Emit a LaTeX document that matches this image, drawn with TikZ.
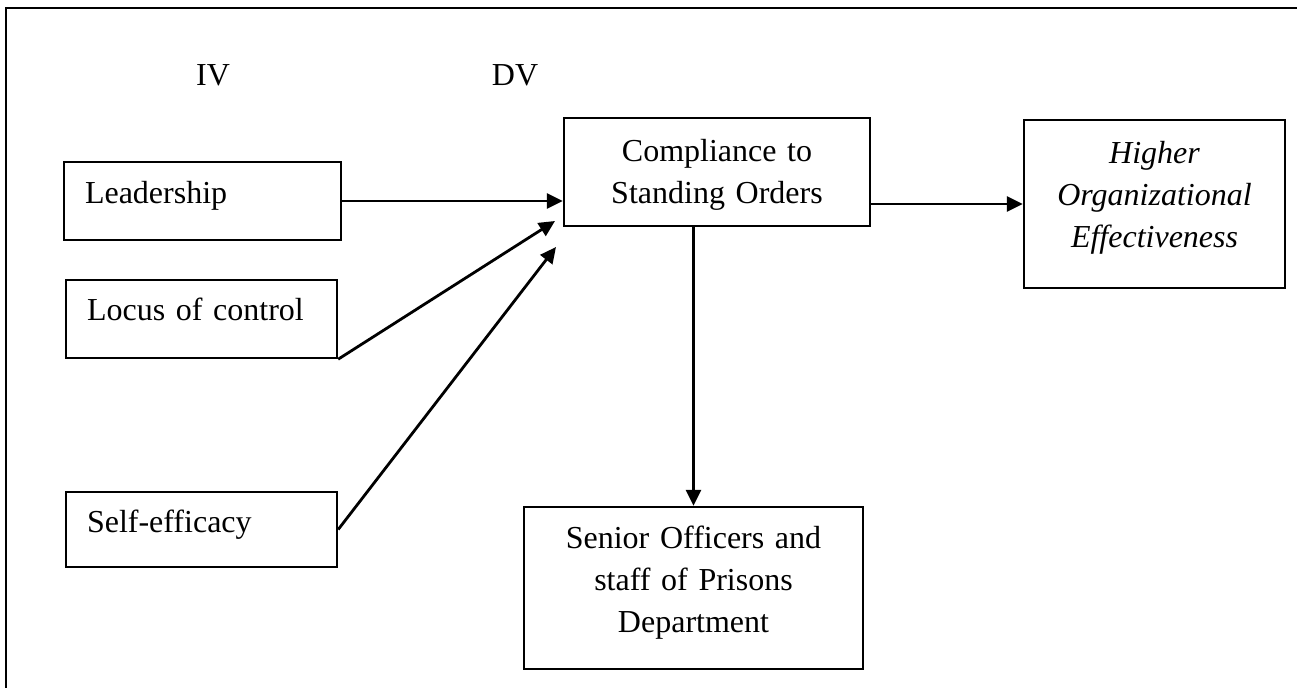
\documentclass[tikz,border=0pt]{standalone}
\usepackage{fontspec}
\setmainfont{Liberation Serif}
\usetikzlibrary{arrows.meta}
\begin{document}
\begin{tikzpicture}[x=1pt,y=-1pt,
  every node/.style={font=\fontsize{32}{42}\selectfont},
  box/.style={draw,line width=2.4pt,inner ysep=3pt,text height=22pt},
  ivbox/.style={box,minimum width=271pt,minimum height=78pt,inner xsep=21pt,text width=229pt,align=left,text depth=17pt},
  arr/.style={line width=2.8pt,-{Triangle[length=16pt,width=15pt]}}]
  \useasboundingbox (0,0) rectangle (1297,688);
  \draw[line width=2.2pt] (1297,8) -- (6,8) -- (6,688);

  \node (iv) at (213,75) {IV};
  \node (dv) at (515,75) {DV};

  \node[ivbox,minimum width=277pt,text width=235pt] (lead) at (202.5,201) {Leadership};
  \node[ivbox,text depth=19pt] (loc) at (201.5,319) {Locus of control};
  \node[ivbox,minimum height=75pt] (self) at (201.5,529.5) {Self-efficacy};

  \node[box,minimum width=306pt,minimum height=108pt,inner xsep=10pt,text width=286pt,align=center,text depth=44pt] (comp) at (717,172) {Compliance to\\Standing Orders};
  \node[box,minimum width=261pt,minimum height=168pt,inner xsep=10pt,text width=241pt,align=center,text depth=103pt,font=\fontsize{32}{42}\selectfont\itshape] (high) at (1154.5,204) {Higher\\Organizational\\Effectiveness};
  \node[box,minimum width=339pt,minimum height=162pt,inner xsep=10pt,text width=319pt,align=center,text depth=101pt] (sen) at (693.5,588) {Senior Officers and\\staff of Prisons\\Department};

  \coordinate (locin) at (555,221);
  \coordinate (selfin) at (556,247);

  \draw[arr] (lead.east) -- (lead.east -| comp.west);
  \draw[arr] (loc.south east) -- (locin);
  \draw[arr] (self.east) -- (selfin);
  \draw[arr] (high.west -| comp.east) -- (high.west);
  \draw[arr] (comp.south -| sen.north) -- (sen.north);
\end{tikzpicture}
\end{document}
